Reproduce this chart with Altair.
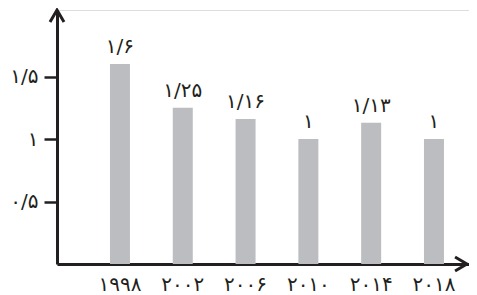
import altair as alt
import pandas as pd

years = ["۱۹۹۸", "۲۰۰۲", "۲۰۰۶", "۲۰۱۰", "۲۰۱۴", "۲۰۱۸"]
values = [1.6, 1.25, 1.16, 1.0, 1.13, 1.0]
value_labels = ["۱/۶", "۱/۲۵", "۱/۱۶", "۱", "۱/۱۳", "۱"]
y_ticks = [0.5, 1.0, 1.5]
y_tick_labels = ["۰/۵", "۱", "۱/۵"]

df = pd.DataFrame({"year": years, "value": values, "label": value_labels})

FONT = "DejaVu Sans"
INK = "#231f20"
BAR = "#bcbdc0"
FS = 20

label_expr = " : ".join(
    f"datum.value == {v} ? '{t}'" for v, t in zip(y_ticks, y_tick_labels)
) + " : ''"

x = alt.X(
    "year:N",
    sort=years,
    scale=alt.Scale(paddingInner=0.682, paddingOuter=0.6213, align=0.679, round=False),
    axis=alt.Axis(
        title=None, ticks=False, domainColor=INK, domainWidth=3,
        labelFont=FONT, labelFontSize=FS, labelColor=INK, labelPadding=10,
        labelAngle=0,
    ),
)
y = alt.Y(
    "value:Q",
    scale=alt.Scale(domain=[0, 2.032], nice=False),
    axis=alt.Axis(
        title=None, values=y_ticks, labelExpr=label_expr, grid=False,
        domainColor=INK, domainWidth=3, tickColor=INK, tickWidth=2.5,
        tickSize=13, labelFont=FONT, labelFontSize=FS, labelColor=INK,
        labelPadding=6,
    ),
)

base = alt.Chart(df)
bars = base.mark_bar(color=BAR, size=20).encode(x=x, y=y)
texts = base.mark_text(
    font=FONT, fontSize=FS, color=INK, dy=-11, baseline="alphabetic"
).encode(x=alt.X("year:N", sort=years), y="value:Q", text="label:N")

arrow_df = pd.DataFrame({"k": [0]})
up_arrow = alt.Chart(arrow_df).mark_point(
    shape="M-1,0.85 L0,-0.85 L1,0.85", filled=False, stroke=INK,
    strokeWidth=3, size=196, opacity=1,
).encode(x=alt.value(0), y=alt.value(6))
right_arrow = alt.Chart(arrow_df).mark_point(
    shape="M-0.85,-1 L0.85,0 L-0.85,1", filled=False, stroke=INK,
    strokeWidth=3, size=196, opacity=1,
).encode(x=alt.value(404), y=alt.value(254))

chart = alt.layer(bars, texts, up_arrow, right_arrow).properties(
    width=412, height=254,
    autosize=alt.AutoSizeParams(type="none"),
    padding={"left": 49, "top": 2, "right": 0, "bottom": 30},
).configure_view(stroke=None).configure(background="white")

chart.save("out.html", embed_options={"renderer": "svg", "actions": False})
